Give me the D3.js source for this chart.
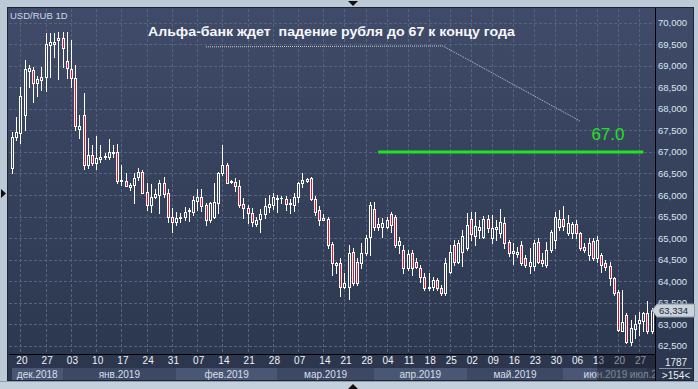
<!DOCTYPE html>
<html>
<head>
<meta charset="utf-8">
<script src="https://cdn.jsdelivr.net/npm/d3@7"></script>
<style>
  html, body { margin: 0; padding: 0; background: #bccad8; }
  svg { display: block; }
  text { font-family: "Liberation Sans", Arial, sans-serif; }
</style>
</head>
<body>
<svg id="chart" width="698" height="389"></svg>
<script>
// ---- data (one bar per index) ----
const symbol = "USD/RUB 1D";

const opens = [
  66.62, 67.35, 67.43, 67.86, 68.89, 68.90, 68.59, 68.67, 68.75, 69.48,
  69.50, 69.60, 69.64, 69.11, 68.93, 68.71, 67.53, 67.86, 66.70, 66.93,
  66.75, 66.84, 66.88, 66.88, 66.97, 66.99, 66.32, 66.33, 66.19, 66.23,
  66.41, 66.53, 66.06, 65.77, 65.96, 66.00, 66.27, 66.04, 65.50, 65.38,
  65.47, 65.48, 65.63, 65.61, 65.87, 65.95, 65.77, 65.42, 65.50, 65.82,
  66.50, 66.70, 66.32, 66.29, 66.21, 65.78, 65.69, 65.58, 65.33, 65.44,
  65.55, 65.71, 65.77, 65.91, 65.92, 65.91, 65.82, 65.77, 65.95, 66.27,
  66.33, 66.39, 65.91, 65.65, 65.46, 65.44, 64.85, 64.37, 64.41, 63.87,
  63.87, 64.68, 64.45, 64.41, 64.65, 65.03, 65.67, 65.26, 65.25, 65.26,
  65.55, 65.50, 64.84, 64.72, 64.30, 64.65, 64.44, 64.30, 64.10, 63.84,
  63.86, 64.03, 63.84, 63.73, 64.21, 64.84, 64.44, 64.68, 64.77, 65.44,
  65.05, 65.19, 65.03, 65.44, 65.00, 65.21, 65.12, 65.35, 64.91, 64.65,
  64.63, 64.84, 64.54, 64.35, 64.35, 64.91, 64.49, 64.37, 64.72, 64.95,
  65.26, 65.44, 65.12, 65.12, 65.33, 65.12, 64.80, 64.61, 64.92, 64.53,
  64.61, 64.41, 64.34, 64.07, 63.75, 62.85, 63.21, 62.59, 62.89, 63.02,
  63.08, 63.27, 62.84
];
const highs = [
  67.47, 67.80, 68.50, 69.13, 69.02, 68.98, 68.76, 68.98, 69.75, 69.75,
  69.75, 69.79, 69.79, 69.78, 69.60, 69.02, 67.86, 68.36, 67.32, 67.16,
  67.37, 67.16, 66.97, 67.29, 67.16, 67.18, 66.70, 66.50, 66.27, 66.50,
  66.62, 66.58, 66.27, 66.25, 66.15, 66.35, 66.41, 66.15, 65.69, 65.61,
  65.58, 65.73, 65.69, 65.98, 66.15, 66.15, 65.81, 65.84, 66.27, 66.53,
  67.16, 66.75, 66.35, 66.40, 66.35, 65.92, 65.77, 65.69, 65.50, 65.67,
  65.92, 66.00, 66.04, 66.00, 65.98, 65.98, 65.90, 66.05, 66.31, 66.50,
  66.40, 66.41, 65.98, 65.74, 65.55, 65.50, 64.91, 64.45, 64.53, 64.18,
  64.84, 64.76, 64.53, 64.88, 65.07, 65.84, 65.84, 65.46, 65.46, 65.50,
  65.61, 65.54, 65.02, 64.84, 64.72, 64.72, 64.54, 64.38, 64.19, 64.19,
  64.10, 64.07, 63.91, 64.54, 64.84, 64.95, 64.95, 65.19, 65.58, 65.61,
  65.61, 65.42, 65.51, 65.53, 65.53, 65.42, 65.68, 65.49, 64.95, 64.88,
  64.79, 64.93, 64.61, 64.77, 64.95, 65.00, 64.65, 64.91, 65.19, 65.61,
  65.65, 65.74, 65.53, 65.37, 65.42, 65.14, 64.88, 65.00, 65.00, 65.05,
  64.65, 64.49, 64.45, 64.10, 63.79, 63.79, 63.26, 63.10, 63.21, 63.29,
  63.29, 63.54, 63.37
];
const lows = [
  66.52, 67.28, 67.21, 67.51, 68.51, 68.17, 68.30, 68.44, 68.42, 68.75,
  69.21, 68.69, 68.98, 68.72, 68.51, 67.51, 67.32, 66.60, 66.62, 66.70,
  66.60, 66.77, 66.83, 66.84, 66.89, 66.27, 66.23, 66.21, 66.11, 65.82,
  66.35, 66.04, 65.65, 65.61, 65.92, 65.58, 65.95, 65.38, 65.15, 65.30,
  65.38, 65.42, 65.40, 65.54, 65.65, 65.63, 65.30, 65.38, 65.47, 65.58,
  66.46, 66.27, 66.27, 66.10, 65.71, 65.46, 65.34, 65.28, 65.28, 65.15,
  65.47, 65.61, 65.67, 65.61, 65.82, 65.65, 65.59, 65.63, 65.84, 66.19,
  66.29, 65.88, 65.54, 65.30, 65.42, 64.76, 64.14, 64.18, 63.65, 63.83,
  63.58, 63.91, 63.91, 64.30, 64.61, 64.61, 65.19, 65.19, 65.03, 65.23,
  65.15, 64.80, 64.65, 64.19, 64.26, 64.14, 64.30, 63.98, 63.79, 63.79,
  63.79, 63.79, 63.68, 63.68, 64.19, 64.38, 64.42, 64.35, 64.72, 64.95,
  64.84, 65.00, 65.00, 65.14, 64.89, 64.95, 65.03, 64.77, 64.58, 64.40,
  64.56, 64.37, 64.33, 64.19, 64.26, 64.42, 64.35, 64.33, 64.68, 64.77,
  65.19, 65.19, 65.07, 65.00, 65.00, 64.72, 64.68, 64.49, 64.49, 64.45,
  64.22, 64.26, 63.91, 63.68, 62.83, 62.83, 62.56, 62.52, 62.67, 62.75,
  62.83, 62.79, 62.80
];
const closes = [
  67.35, 67.47, 68.30, 68.93, 68.94, 68.61, 68.69, 68.74, 69.50, 69.56,
  69.56, 69.65, 69.42, 68.94, 68.71, 67.59, 67.59, 66.70, 66.93, 66.75,
  66.85, 66.88, 66.91, 66.99, 67.00, 66.33, 66.35, 66.21, 66.23, 66.39,
  66.53, 66.05, 65.77, 65.96, 66.02, 66.27, 66.02, 65.50, 65.38, 65.46,
  65.49, 65.60, 65.64, 65.88, 65.95, 65.74, 65.42, 65.81, 65.84, 66.52,
  66.70, 66.28, 66.29, 66.21, 65.77, 65.69, 65.58, 65.37, 65.42, 65.55,
  65.74, 65.79, 65.95, 65.94, 65.94, 65.79, 65.79, 65.95, 66.27, 66.35,
  66.36, 65.91, 65.61, 65.43, 65.43, 64.84, 64.41, 64.41, 63.87, 63.95,
  64.65, 63.96, 63.96, 64.65, 64.99, 65.77, 65.26, 65.33, 65.34, 65.42,
  65.30, 64.84, 64.94, 64.30, 64.63, 64.30, 64.33, 64.10, 63.84, 63.86,
  64.03, 63.84, 63.73, 64.42, 64.68, 64.44, 64.88, 65.05, 65.30, 65.09,
  65.28, 65.26, 65.44, 65.23, 65.23, 65.26, 65.37, 64.88, 64.65, 64.70,
  64.68, 64.42, 64.37, 64.44, 64.88, 64.44, 64.42, 64.72, 65.14, 65.49,
  65.44, 65.28, 65.35, 65.33, 65.12, 64.77, 64.72, 64.88, 64.53, 64.95,
  64.38, 64.33, 64.07, 63.72, 62.86, 63.06, 62.59, 62.90, 63.00, 63.10,
  63.25, 62.84, 63.334
];

const dayTicks  = [2, 8, 14, 20, 26, 32, 38, 44, 50, 56, 62, 68, 74, 79, 84,
                   89, 94, 99, 104, 109, 114, 119, 124, 129, 134, 139, 144, 149];
const dayLabels = ["20", "27", "03", "10", "17", "24", "31", "07", "14", "21", "28",
                   "07", "14", "21", "28", "04", "11", "18", "25", "02", "09", "16",
                   "23", "30", "06", "13", "20", "27"];

const monthStarts = [0, 12, 39, 63, 86, 108, 131, 151, 153];
const monthLabels = ["дек.2018", "янв.2019", "фев.2019", "мар.2019",
                     "апр.2019", "май.2019", "июн.2019", "июл.2019"];

const priceTicks = [62.5, 63, 63.5, 64, 64.5, 65, 65.5, 66, 66.5, 67, 67.5, 68, 68.5, 69, 69.5, 70];
const lastPrice = 63.334;

const targetLevel = 67.0;
const targetRange = [87, 150];
const targetLabel = "67.0";
const noteText = "Альфа-банк ждет  падение рубля до 67 к концу года";
const notePath = [[46.1, 69.44], [102.4, 69.46], [134.9, 67.72]];

const scaleInfo = "1787";
const barsInfo = ">154<";

// ---- layout ----
const W = 698, H = 389;
const plot = { left: 9, top: 9, right: 655, bottom: 354 };
const svg = d3.select("#chart");

const x = d3.scaleLinear().domain([0, opens.length - 1]).range([12, 651.7]);
const y = d3.scaleLinear().domain([62.5, 70]).range([345.7, 22.7]);
const fmt = d3.formatLocale({ decimal: ",", thousands: " ", grouping: [3], currency: ["", ""] }).format(".3f");

const defs = svg.append("defs");
const grad = defs.append("linearGradient").attr("id", "bg")
  .attr("gradientUnits", "userSpaceOnUse")
  .attr("x1", 0).attr("y1", 8).attr("x2", 0).attr("y2", 381);
grad.append("stop").attr("offset", 0).attr("stop-color", "#3f4b68");
grad.append("stop").attr("offset", 1).attr("stop-color", "#2b364e");

defs.append("clipPath").attr("id", "plotClip").append("rect")
  .attr("x", plot.left).attr("y", plot.top)
  .attr("width", plot.right - plot.left).attr("height", 373);

// frame + panel
svg.append("rect").attr("width", W).attr("height", H).attr("fill", "#bccad8");
svg.append("rect").attr("x", 7.5).attr("y", 7.5).attr("width", 686).attr("height", 373)
  .attr("fill", "url(#bg)").attr("stroke", "#1d2434");
svg.append("line").attr("x1", 0).attr("x2", W).attr("y1", 381.5).attr("y2", 381.5).attr("stroke", "#8e9cad");
svg.append("rect").attr("x", 0).attr("y", 382).attr("width", W).attr("height", 7).attr("fill", "#c4d0dc");

// grid
const grid = svg.append("g").attr("stroke", "#56637f").attr("stroke-dasharray", "3,2").attr("stroke-width", 1);
grid.selectAll(".h").data(priceTicks).join("line")
  .attr("x1", plot.left).attr("x2", plot.right)
  .attr("y1", d => Math.round(y(d)) + 0.5).attr("y2", d => Math.round(y(d)) + 0.5);
grid.selectAll(".v").data(dayTicks).join("line")
  .attr("y1", plot.top).attr("y2", plot.bottom)
  .attr("x1", d => Math.round(x(d)) + 0.5).attr("x2", d => Math.round(x(d)) + 0.5);

// month bands
const bottom = svg.append("g").attr("clip-path", "url(#plotClip)");
const months = monthLabels.map((m, k) => ({ label: m, a: monthStarts[k], b: monthStarts[k + 1], k }));
bottom.selectAll(".band").data(months).join("rect")
  .attr("x", d => Math.round(x(d.a)))
  .attr("width", d => Math.round(x(d.b)) - Math.round(x(d.a)))
  .attr("y", 368).attr("height", 12)
  .attr("fill", d => d.k % 2 ? "#3c4864" : "#4a5774");
bottom.selectAll(".mlab").data(months).join("text")
  .attr("x", d => (x(d.a) + x(d.b)) / 2).attr("y", 377.5)
  .attr("text-anchor", "middle").attr("font-size", 10).attr("fill", "#d6dfea")
  .text(d => d.label);

// bottom axis
const xAxis = d3.axisBottom(x).tickValues(dayTicks).tickFormat((d, i) => dayLabels[i]).tickSize(0).tickPadding(3);
const gx = svg.append("g").attr("transform", `translate(1,${plot.bottom})`).call(xAxis);
gx.select(".domain").remove();
gx.selectAll("text").attr("font-size", 10).attr("fill", "#eef2f7").attr("font-family", "Liberation Sans, Arial, sans-serif");

// overlay on the right end of the time axis
svg.append("rect").attr("x", Math.round(x(139))).attr("y", 355)
  .attr("width", plot.right - Math.round(x(139))).attr("height", 26)
  .attr("fill", "rgba(20,27,40,0.45)");

// candles
const bars = opens.map((o, i) => ({ i, o, h: highs[i], l: lows[i], c: closes[i] }));
const cg = svg.append("g").attr("clip-path", "url(#plotClip)");
bars.forEach(d => {
  const cx = Math.round(x(d.i));
  const yh = Math.round(y(d.h)), yl = Math.round(y(d.l));
  const top = Math.round(y(Math.max(d.o, d.c))), bot = Math.round(y(Math.min(d.o, d.c)));
  const up = d.c >= d.o;
  cg.append("rect").attr("x", cx).attr("width", 1).attr("y", yh).attr("height", yl - yh + 1).attr("fill", "#ffffff");
  const bh = Math.max(bot - top + 1, 1);
  cg.append("rect").attr("x", cx - 1).attr("width", 3).attr("y", top).attr("height", bh).attr("fill", "#ffffff");
  if (bh > 2) {
    cg.append("rect").attr("x", cx).attr("width", 1).attr("y", top + 1).attr("height", bh - 2)
      .attr("fill", up ? "url(#bg)" : "#e3102e");
  }
});

// target level and note
svg.append("line")
  .attr("x1", x(targetRange[0])).attr("x2", x(targetRange[1]))
  .attr("y1", y(targetLevel)).attr("y2", y(targetLevel))
  .attr("stroke", "#1fe41f").attr("stroke-width", 3);
svg.append("text").attr("x", x(141.6)).attr("y", y(67.27))
  .attr("text-anchor", "middle").attr("font-size", 17).attr("fill", "#22e022")
  .text(targetLabel);

svg.append("path")
  .attr("d", d3.line().x(p => x(p[0])).y(p => y(p[1]))(notePath))
  .attr("fill", "none").attr("stroke", "#c4cad4").attr("stroke-width", 1).attr("stroke-dasharray", "1,1");
svg.append("text").attr("x", x(75.9)).attr("y", y(69.69))
  .attr("text-anchor", "middle").attr("font-size", 13.5).attr("font-weight", "bold")
  .attr("textLength", 367).attr("lengthAdjust", "spacingAndGlyphs")
  .attr("fill", "#f6f7fa").style("white-space", "pre")
  .text(noteText);

svg.append("text").attr("x", 10).attr("y", 18.5).attr("font-size", 9.5).attr("fill", "#cbd8ea").text(symbol);

// axis lines
svg.append("line").attr("x1", plot.left).attr("x2", plot.right).attr("y1", plot.bottom + 0.5).attr("y2", plot.bottom + 0.5).attr("stroke", "#000");
svg.append("line").attr("x1", plot.right + 0.5).attr("x2", plot.right + 0.5).attr("y1", 8).attr("y2", 381).attr("stroke", "#000");

// right axis
const yAxis = d3.axisRight(y).tickValues(priceTicks).tickFormat(fmt).tickSize(0).tickPadding(3);
const gy = svg.append("g").attr("transform", `translate(${plot.right},0)`).call(yAxis);
gy.select(".domain").remove();
gy.selectAll("text").attr("font-size", 9.5).attr("fill", "#dbe5f3").attr("font-family", "Liberation Sans, Arial, sans-serif");

// last price tag
const ty = Math.round(y(lastPrice)) + 0.5;
svg.append("path")
  .attr("d", `M${plot.right - 3},${ty} L${plot.right + 2},${ty - 6.5} L694.5,${ty - 6.5} L694.5,${ty + 6.5} L${plot.right + 2},${ty + 6.5} Z`)
  .attr("fill", "#c9d1da").attr("stroke", "#8c98a8");
svg.append("text").attr("x", plot.right + 4).attr("y", ty + 3.5)
  .attr("font-size", 9.5).attr("fill", "#1b2840").text(fmt(lastPrice));

// bottom-right info
svg.append("text").attr("x", 676).attr("y", 366).attr("text-anchor", "middle")
  .attr("font-size", 10).attr("fill", "#e8eef5").text(scaleInfo);
svg.append("line").attr("x1", 659).attr("x2", 692).attr("y1", 368.5).attr("y2", 368.5).attr("stroke", "#8593a8");
svg.append("text").attr("x", 676).attr("y", 378.5).attr("text-anchor", "middle")
  .attr("font-size", 10).attr("fill", "#e8eef5").text(barsInfo);

// scroll arrows
const tri = svg.append("g").attr("fill", "#101010");
tri.append("path").attr("d", "M1,189 L1,198 L6,193.5 Z");
tri.append("path").attr("d", "M348,1 L358,1 L353,6 Z");
tri.append("path").attr("d", "M348,389 L358,389 L353,384 Z");
</script>
</body>
</html>
